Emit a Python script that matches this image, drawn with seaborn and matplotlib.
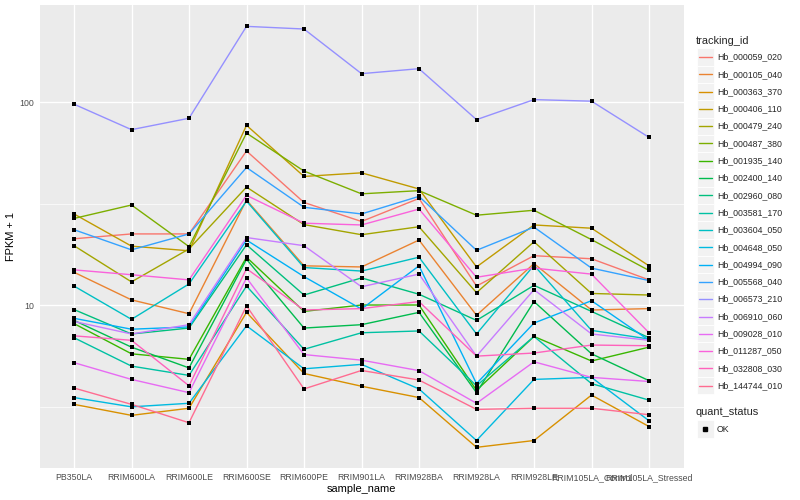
import pandas as pd
import seaborn as sns
import matplotlib.pyplot as plt
from matplotlib.ticker import FixedLocator, NullFormatter
from matplotlib.patches import Rectangle
from matplotlib.lines import Line2D

samples = ["PB350LA", "RRIM600LA", "RRIM600LE", "RRIM600SE", "RRIM600PE", "RRIM901LA",
           "RRIM928BA", "RRIM928LA", "RRIM928LE", "RRIM105LA_Control", "RRIM105LA_Stressed"]

tracking_ids = ["Hb_000059_020", "Hb_000105_040", "Hb_000363_370", "Hb_000406_110",
                "Hb_000479_240", "Hb_000487_380", "Hb_001935_140", "Hb_002400_140",
                "Hb_002960_080", "Hb_003581_170", "Hb_003604_050", "Hb_004648_050",
                "Hb_004994_090", "Hb_005568_040", "Hb_006573_210", "Hb_006910_060",
                "Hb_009028_010", "Hb_011287_050", "Hb_032808_030", "Hb_144744_010"]

# FPKM + 1, one list per gene, in sample order
hb_000059_020 = [21.2, 22.4, 22.4, 57.4, 32.0, 25.8, 33.5, 12.4, 17.5, 16.9, 13.3]
hb_000105_040 = [14.5, 10.6, 9.06, 32.9, 15.6, 15.4, 20.9, 8.9, 16.0, 9.45, 9.6]
hb_000363_370 = [3.24, 2.86, 3.1, 9.2, 4.6, 3.98, 3.5, 1.99, 2.15, 3.6, 2.52]
hb_000406_110 = [28.1, 19.5, 18.5, 76.8, 43.0, 44.8, 37.3, 15.4, 24.8, 23.9, 15.6]
hb_000479_240 = [19.6, 13.0, 18.9, 38.1, 24.9, 22.2, 24.3, 11.5, 20.5, 11.4, 11.2]
hb_000487_380 = [26.7, 31.1, 19.4, 70.3, 45.7, 35.3, 36.6, 27.7, 29.3, 21.0, 14.8]
hb_001935_140 = [8.1, 5.75, 5.4, 17.2, 9.3, 10.0, 10.0, 3.8, 7.0, 5.3, 6.2]
hb_002400_140 = [8.4, 6.2, 4.9, 16.8, 7.7, 8.0, 9.2, 3.7, 10.4, 5.75, 4.24]
hb_002960_080 = [9.5, 7.2, 7.7, 19.8, 11.2, 13.6, 11.3, 8.4, 12.5, 9.3, 6.9]
hb_003581_170 = [6.9, 5.0, 4.5, 12.4, 6.05, 7.3, 7.45, 4.0, 7.0, 4.1, 3.4]
hb_003604_050 = [12.4, 8.5, 12.7, 32.5, 15.3, 14.7, 17.2, 7.2, 15.7, 7.5, 6.8]
hb_004648_050 = [3.5, 3.15, 3.28, 7.9, 4.85, 5.1, 3.86, 2.15, 4.3, 4.4, 2.69]
hb_004994_090 = [8.6, 7.6, 7.8, 20.9, 13.8, 9.55, 15.6, 4.1, 8.15, 10.5, 6.7]
hb_005568_040 = [23.5, 18.7, 22.4, 47.6, 30.3, 28.1, 34.3, 18.6, 24.2, 15.2, 13.2]
hb_006573_210 = [97.6, 73.1, 83.2, 236.0, 229.0, 138.0, 146.0, 81.9, 102.8, 101.0, 67.0]
hb_006910_060 = [8.3, 7.2, 8.0, 21.5, 19.6, 12.3, 14.2, 5.6, 11.9, 7.2, 6.7]
hb_009028_010 = [5.2, 4.3, 3.7, 13.6, 5.7, 5.35, 4.75, 3.28, 5.25, 4.4, 4.2]
hb_011287_050 = [14.9, 14.1, 13.3, 34.7, 25.3, 24.8, 29.7, 13.7, 15.2, 14.2, 7.3]
hb_032808_030 = [7.05, 6.7, 4.0, 15.1, 9.45, 9.6, 10.4, 5.6, 5.8, 6.35, 6.3]
hb_144744_010 = [3.9, 3.24, 2.63, 9.9, 3.86, 4.76, 4.27, 3.06, 3.1, 3.1, 2.88]

series = [hb_000059_020, hb_000105_040, hb_000363_370, hb_000406_110, hb_000479_240,
          hb_000487_380, hb_001935_140, hb_002400_140, hb_002960_080, hb_003581_170,
          hb_003604_050, hb_004648_050, hb_004994_090, hb_005568_040, hb_006573_210,
          hb_006910_060, hb_009028_010, hb_011287_050, hb_032808_030, hb_144744_010]

# ggplot2 default hue palette for 20 levels
colors = ["#F8766D", "#EA8331", "#D89000", "#C09B00", "#A3A500", "#7CAE00", "#39B600",
          "#00BB4E", "#00BF7D", "#00C1A3", "#00BFC4", "#00BAE0", "#00B0F6", "#35A2FF",
          "#9590FF", "#C77CFF", "#E76BF3", "#FA62DB", "#FF62BC", "#FF6C91"]

rows = []
for tid, vals in zip(tracking_ids, series):
    for s, v in zip(samples, vals):
        rows.append({"tracking_id": tid, "sample_name": s, "fpkm": v, "quant_status": "OK"})
df = pd.DataFrame(rows)

sns.set_theme(style="darkgrid")
plt.rcParams["font.family"] = ["Liberation Sans", "DejaVu Sans"]

W, H = 800, 500
fig = plt.figure(figsize=(8, 5), dpi=100)
ax = fig.add_axes([39.5 / W, 1 - 468 / H, 644 / W, 463 / H])
ax.set_facecolor("#EBEBEB")

sns.lineplot(data=df, x="sample_name", y="fpkm", hue="tracking_id", hue_order=tracking_ids,
             palette=colors, sort=False, estimator=None, errorbar=None, legend=False,
             lw=1.0, ax=ax)
sns.scatterplot(data=df, x="sample_name", y="fpkm", color="black", marker="s", s=8,
                linewidth=0, legend=False, ax=ax, zorder=3)

ax.set_yscale("log")
ax.set_ylim(1.574, 300.7)
ax.set_xlim(-0.6, 10.6)
ax.set_xticks(range(len(samples)))
ax.set_xticklabels(samples)
ax.yaxis.set_major_locator(FixedLocator([10, 100]))
ax.set_yticklabels(["10", "100"])
ax.yaxis.set_minor_locator(FixedLocator([10 ** 0.5, 10 ** 1.5, 10 ** 2.5]))
ax.yaxis.set_minor_formatter(NullFormatter())

ax.set_axisbelow(True)
ax.grid(True, which="major", color="white", lw=1.0)
ax.grid(True, which="minor", axis="y", color="white", lw=0.5)
for sp in ax.spines.values():
    sp.set_visible(False)
ax.tick_params(which="major", length=2, width=0.8, color="#333333", pad=1.6,
               labelsize=6.3, labelcolor="#4D4D4D")
ax.tick_params(which="minor", length=0)
ax.set_xlabel("sample_name", fontsize=7.9, color="black", labelpad=1.5)
ax.set_ylabel("FPKM + 1", fontsize=7.9, color="black", labelpad=2.5)

# legend drawn on the right, ggplot style
def fx(x):
    return x / W

def fy(y):
    return 1 - y / H

fig.text(fx(696), fy(40.7), "tracking_id", fontsize=7.9, va="center", ha="left")
step = 17.3
for i, (tid, col) in enumerate(zip(tracking_ids, colors)):
    yc = 57 + step * i
    fig.add_artist(Rectangle((fx(697), fy(yc + step / 2)), 16.5 / W, step / H,
                             transform=fig.transFigure, facecolor="#F2F2F2",
                             edgecolor="white", lw=0.6))
    fig.add_artist(Line2D([fx(699), fx(711.5)], [fy(yc), fy(yc)], color=col, lw=1.0,
                          transform=fig.transFigure))
    fig.text(fx(717), fy(yc), tid, fontsize=6.3, va="center", ha="left")

fig.text(fx(696), fy(412), "quant_status", fontsize=7.9, va="center", ha="left")
fig.add_artist(Rectangle((fx(697), fy(429 + step / 2)), 16.5 / W, step / H,
                         transform=fig.transFigure, facecolor="#F2F2F2",
                         edgecolor="white", lw=0.6))
fig.add_artist(Line2D([fx(705.2)], [fy(429)], marker="s", markersize=2.8, color="black",
                      lw=0, transform=fig.transFigure))
fig.text(fx(717), fy(429), "OK", fontsize=6.3, va="center", ha="left")

fig.savefig("out.png", dpi=100, facecolor="white")
